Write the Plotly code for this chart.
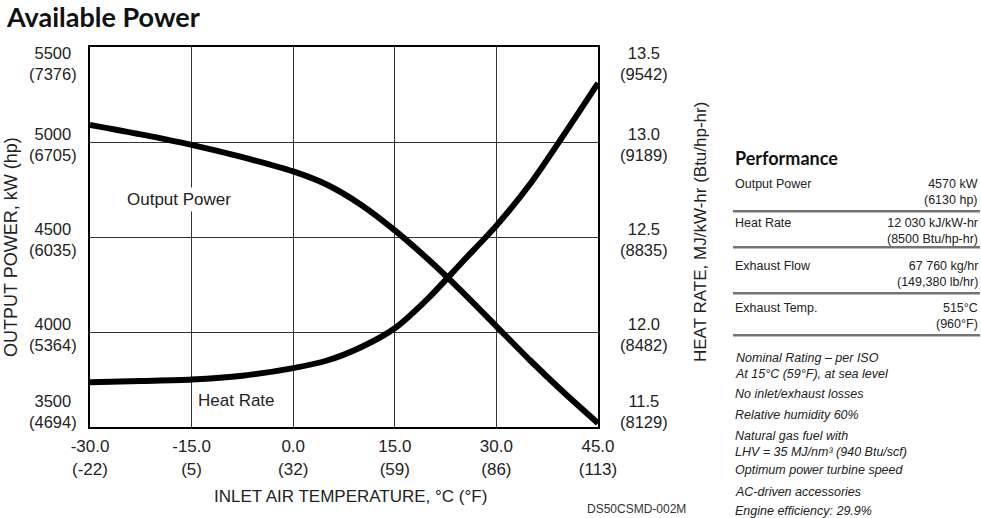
import plotly.graph_objects as go

# ---- data ----
temp_c = [-30, -22.5, -15, -7.5, 0, 5, 10, 15, 20, 25, 30, 35, 40, 45]
output_power_kw = [5090, 5040, 4985, 4920, 4845, 4775, 4670, 4535, 4380, 4210, 4030, 3850, 3680, 3520]
heat_rate_mj = [11.735, 11.742, 11.75, 11.77, 11.81, 11.85, 11.92, 12.02, 12.18, 12.37, 12.56, 12.78, 13.04, 13.31]

x_tick_vals = [-30, -15, 0, 15, 30, 45]
x_tick_text = ["-30.0<br>(-22)", "-15.0<br>(5)", "0.0<br>(32)", "15.0<br>(59)", "30.0<br>(86)", "45.0<br>(113)"]
y1_tick_vals = [3500, 4000, 4500, 5000, 5500]
y1_tick_text = ["3500<br>(4694)", "4000<br>(5364)", "4500<br>(6035)", "5000<br>(6705)", "5500<br>(7376)"]
y2_tick_vals = [11.5, 12.0, 12.5, 13.0, 13.5]
y2_tick_text = ["11.5<br>(8129)", "12.0<br>(8482)", "12.5<br>(8835)", "13.0<br>(9189)", "13.5<br>(9542)"]

perf_labels = ["Output Power", "Heat Rate", "Exhaust Flow", "Exhaust Temp."]
perf_values = ["4570 kW<br>(6130 hp)", "12 030 kJ/kW-hr<br>(8500 Btu/hp-hr)",
               "67 760 kg/hr<br>(149,380 lb/hr)", "515°C<br>(960°F)"]
notes = ["Nominal Rating – per ISO<br>At 15°C (59°F), at sea level", "No inlet/exhaust losses",
         "Relative humidity 60%", "Natural gas fuel with<br>LHV = 35 MJ/nm³ (940 Btu/scf)",
         "Optimum power turbine speed", "AC-driven accessories", "Engine efficiency: 29.9%"]

# ---- layout geometry ----
W, H = 981, 518
L, R, T, B = 90, 383, 47, 91
PW, PH = W - L - R, H - T - B


def px(x):
    return (x - L) / PW


def py(y):
    return 1 - (y - T) / PH


FONT = "Liberation Sans, Arial, sans-serif"
TXT = "#222"
TICK_SIZE = 16.5

fig = go.Figure()
fig.add_trace(go.Scatter(x=temp_c, y=output_power_kw, mode="lines", name="Output Power",
                         line=dict(color="black", width=6, shape="spline", smoothing=0.8),
                         yaxis="y", showlegend=False))
fig.add_trace(go.Scatter(x=temp_c, y=heat_rate_mj, mode="lines", name="Heat Rate",
                         line=dict(color="black", width=6, shape="spline", smoothing=0.8),
                         yaxis="y2", showlegend=False))

ann = []


def tick_anchor(v, vals):
    if v == max(vals):
        return "top", 5
    if v == min(vals):
        return "bottom", -6
    return "middle", -2


# y tick labels (centered two-line)
for v, t in zip(y1_tick_vals, y1_tick_text):
    ya, ys = tick_anchor(v, y1_tick_vals)
    ann.append(dict(x=px(53), xref="paper", y=v, yref="y", text=t, showarrow=False,
                    xanchor="center", yanchor=ya, yshift=ys, align="center",
                    font=dict(family=FONT, size=TICK_SIZE, color=TXT)))
for v, t in zip(y2_tick_vals, y2_tick_text):
    ya, ys = tick_anchor(v, y2_tick_vals)
    ann.append(dict(x=px(644), xref="paper", y=v, yref="y2", text=t, showarrow=False,
                    xanchor="center", yanchor=ya, yshift=ys, align="center",
                    font=dict(family=FONT, size=TICK_SIZE, color=TXT)))

# in-plot labels
ann.append(dict(x=-16.9, y=4695, xref="x", yref="y", text="Output Power", showarrow=False,
                xanchor="center", yanchor="middle", bgcolor="white", borderpad=2,
                font=dict(family=FONT, size=17, color=TXT)))
ann.append(dict(x=-8.3, y=3637, xref="x", yref="y", text="Heat Rate", showarrow=False,
                xanchor="center", yanchor="middle",
                font=dict(family=FONT, size=17, color=TXT)))

# axis titles
ann.append(dict(x=px(11), y=py(247), xref="paper", yref="paper", text="OUTPUT POWER, kW (hp)",
                textangle=-90, showarrow=False, xanchor="center", yanchor="middle",
                font=dict(family=FONT, size=18, color=TXT)))
ann.append(dict(x=px(700), y=py(232), xref="paper", yref="paper", text="HEAT RATE, MJ/kW-hr (Btu/hp-hr)",
                textangle=-90, showarrow=False, xanchor="center", yanchor="middle",
                font=dict(family=FONT, size=17, color=TXT)))
ann.append(dict(x=px(350), y=py(497), xref="paper", yref="paper", text="INLET AIR TEMPERATURE, °C (°F)",
                showarrow=False, xanchor="center", yanchor="middle",
                font=dict(family=FONT, size=17, color=TXT)))
ann.append(dict(x=px(636), y=py(509), xref="paper", yref="paper", text="DS50CSMD-002M",
                showarrow=False, xanchor="center", yanchor="middle",
                font=dict(family=FONT, size=12, color="#333")))

# title
ann.append(dict(x=px(4), y=py(17), xref="paper", yref="paper", text="<b>Available Power</b>",
                xanchor="left", yanchor="middle", showarrow=False,
                font=dict(family="Lato, sans-serif", size=27, color="#111")))

# performance table
ann.append(dict(x=px(733), y=py(158), xref="paper", yref="paper", text="<b>Performance</b>",
                xanchor="left", yanchor="middle", showarrow=False,
                font=dict(family="Lato, sans-serif", size=18, color="#111")))
row_tops = [175, 214, 257, 299]
sep_y = [211, 247, 293, 335]
for lab, val, yt in zip(perf_labels, perf_values, row_tops):
    ann.append(dict(x=px(733), y=py(yt), xref="paper", yref="paper", text=lab,
                    xanchor="left", yanchor="top", align="left", showarrow=False,
                    font=dict(family=FONT, size=12.5, color=TXT)))
    ann.append(dict(x=px(980), y=py(yt), xref="paper", yref="paper", text=val,
                    xanchor="right", yanchor="top", align="right", showarrow=False,
                    font=dict(family=FONT, size=12.5, color=TXT)))

shapes = []
for sy in sep_y:
    shapes.append(dict(type="line", xref="paper", yref="paper", x0=px(733), x1=px(980),
                       y0=py(sy), y1=py(sy), line=dict(color="#444", width=1.5)))
    shapes.append(dict(type="line", xref="paper", yref="paper", x0=px(733), x1=px(980),
                       y0=py(sy + 1.5), y1=py(sy + 1.5), line=dict(color="#bbb", width=1)))

note_y = [349, 385, 406, 427, 461, 483, 502]
for n, ny in zip(notes, note_y):
    ann.append(dict(x=px(733), y=py(ny), xref="paper", yref="paper", text="<i>" + n + "</i>",
                    xanchor="left", yanchor="top", align="left", showarrow=False,
                    font=dict(family=FONT, size=12.5, color=TXT)))

fig.update_layout(
    width=W, height=H, margin=dict(l=L, r=R, t=T, b=B),
    paper_bgcolor="white", plot_bgcolor="white",
    xaxis=dict(range=[-30, 45], tickvals=x_tick_vals, ticktext=x_tick_text,
               showgrid=True, gridcolor="#333", gridwidth=1.3, zeroline=False,
               showline=True, linecolor="black", linewidth=2, mirror=True, ticks="",
               ticklabelstandoff=3,
               tickfont=dict(family=FONT, size=17, color=TXT)),
    yaxis=dict(range=[3500, 5500], tickvals=y1_tick_vals, showticklabels=False,
               showgrid=True, gridcolor="#333", gridwidth=1.3, zeroline=False,
               showline=True, linecolor="black", linewidth=2, mirror=True, ticks=""),
    yaxis2=dict(range=[11.5, 13.5], tickvals=y2_tick_vals, showticklabels=False,
                overlaying="y", side="right", showgrid=False, zeroline=False,
                showline=True, linecolor="black", linewidth=2, ticks=""),
    annotations=ann, shapes=shapes, showlegend=False,
)

fig.write_html("out.html", config={"displayModeBar": False},
               post_script="document.body.style.margin='0';document.body.style.overflow='hidden';")
